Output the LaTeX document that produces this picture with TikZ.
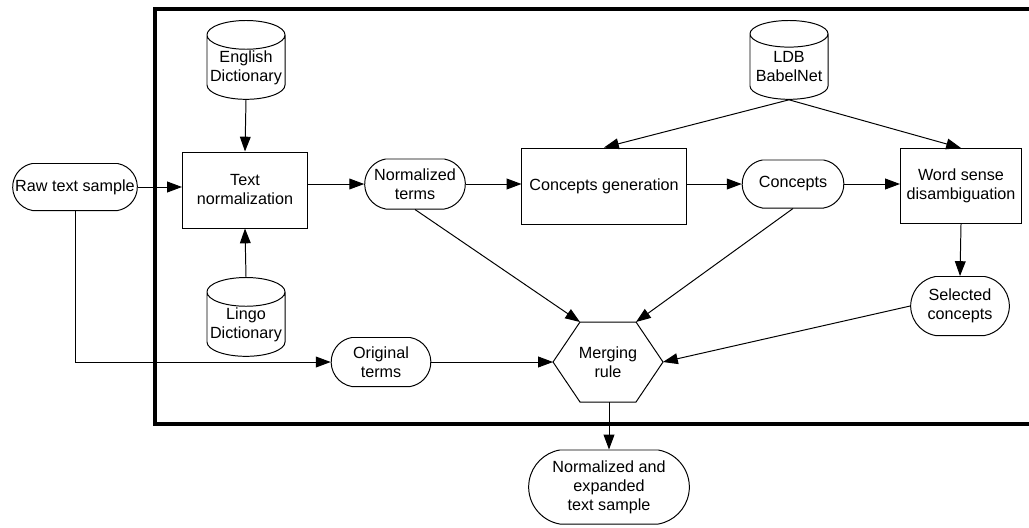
\documentclass[tikz,border=0pt]{standalone}
\usepackage{fontspec}
\setmainfont{Liberation Sans}
\usetikzlibrary{arrows.meta,shapes.geometric,shapes.misc}
\tikzset{
    flow/.style={draw, line width=0.7pt, -{Triangle[length=0.37cm,width=0.27cm]}},
    term/.style={rounded rectangle, rounded rectangle arc length=160, draw, fill=white, line width=0.7pt, align=center},
    proc/.style={rectangle, draw, fill=white, line width=0.7pt, align=center},
    dbase/.style={cylinder, shape border rotate=90, aspect=0.4, draw, fill=white, line width=0.7pt, align=center, inner sep=0pt, minimum width=1.95cm, minimum height=1.97cm, anchor=north},
}
\begin{document}
\begin{tikzpicture}[x=0.025cm, y=-0.025cm, font=\fontsize{11.5}{13.5}\selectfont]
        \clip (0,0) rectangle (1029,527);
        %draw frame
        \draw[line width=0.1cm] (155,9) rectangle (1045,424);
        %draw nodes
        \node[term, minimum width=3.35cm, minimum height=1.175cm] (raw) at (75,187) {Raw text sample};
        \node[proc, minimum width=3.125cm, minimum height=1.9cm] (tnorm) at (245,190) {Text\\normalization};
        \node[dbase] (engdict) at (246,20) {English\\Dictionary};
        \node[dbase] (lingo) at (246,277) {Lingo\\Dictionary};
        \node[term, minimum width=2.75cm, minimum height=1.25cm] (nterms) at (415,184) {Normalized\\terms};
        \node[proc, minimum width=4.1cm, minimum height=1.9cm] (cgen) at (604,186) {Concepts generation};
        \node[term, minimum width=2.775cm, minimum height=1.2cm] (concepts) at (793,184) {Concepts};
        \node[proc, minimum width=3.025cm, minimum height=1.875cm] (wsd) at (961,186) {Word sense\\disambiguation};
        \node[dbase] (ldb) at (789,20) {LDB\\BabelNet};
        \node[term, minimum width=2.7cm, minimum height=1.475cm] (selc) at (960,306) {Selected\\concepts};
        \node[term, minimum width=2.725cm, minimum height=1.225cm] (orig) at (381,362) {Original\\terms};
        \node[term, minimum width=4.25cm, minimum height=1.85cm] (out) at (609,487) {Normalized and\\expanded\\text sample};
        %draw merging hexagon
        \coordinate (ml) at (553,362);
        \coordinate (mtl) at (580,322);
        \coordinate (mtr) at (636,322);
        \coordinate (mr) at (663,362);
        \coordinate (mbr) at (636,402);
        \coordinate (mbl) at (580,402);
        \coordinate (mb) at (609,402);
        \draw[line width=0.7pt, fill=white] (ml) -- (mtl) -- (mtr) -- (mr) -- (mbr) -- (mbl) -- cycle;
        \node[align=center] (merge) at (608,362) {Merging\\rule};
        %draw arrows
        \draw[flow] (raw.east) -- (raw.east -| tnorm.west);
        \draw[flow] (raw.south) |- (orig.west);
        \draw[flow] (engdict.south) -- (tnorm.north);
        \draw[flow] (lingo.north) -- (tnorm.south);
        \draw[flow] (tnorm.east |- nterms.west) -- (nterms.west);
        \draw[flow] (nterms.east) -- (nterms.east -| cgen.west);
        \draw[flow] (cgen.east |- concepts.west) -- (concepts.west);
        \draw[flow] (concepts.east) -- (concepts.east -| wsd.west);
        \draw[flow] (ldb.south) -- (cgen.north);
        \draw[flow] (ldb.south) -- (wsd.north);
        \draw[flow] (wsd.south) -- (selc.north);
        \draw[flow] (nterms.south) -- (mtl);
        \draw[flow] (concepts.south) -- (mtr);
        \draw[flow] (selc.west) -- (mr);
        \draw[flow] (orig.east) -- (ml);
        \draw[flow] (mb) -- (out.north);
    \end{tikzpicture}
\end{document}
